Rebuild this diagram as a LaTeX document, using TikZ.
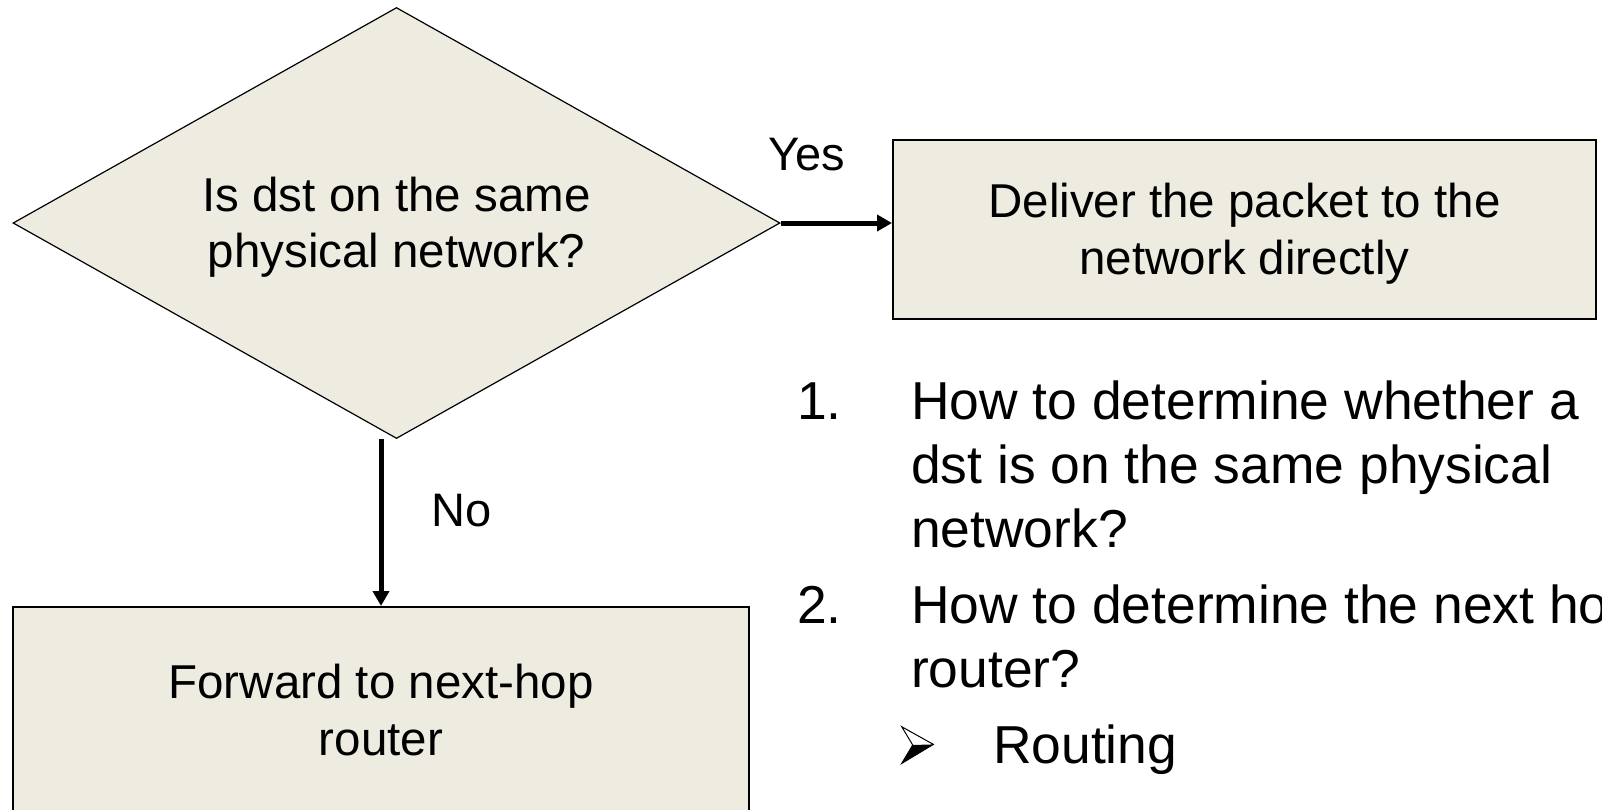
\documentclass[tikz,border=0pt]{standalone}
\usepackage{fontspec}
\setmainfont{Liberation Sans}
\usetikzlibrary{shapes.geometric,arrows.meta}
\definecolor{boxfill}{HTML}{EEECE1}
% line box of one text line: ascent and descent as a slide program sets them
\newcommand\lnstrut{\rule[-10pt]{0pt}{53pt}}
\tikzset{
  decision/.style={diamond, aspect=1.78, draw=black, line width=1.2pt, fill=boxfill, inner sep=0pt,
    minimum width=767pt, minimum height=431pt, align=center,
    font=\fontsize{47.5}{56.5}\selectfont},
  stepbox/.style={rectangle, draw=black, line width=2pt, fill=boxfill, inner sep=0pt,
    align=center, font=\fontsize{47.5}{56.5}\selectfont},
  flow/.style={line width=5pt, -{Triangle[width=16pt,length=15pt]}},
  lbl/.style={inner sep=0pt, font=\fontsize{47}{56}\selectfont},
  listtxt/.style={inner sep=0pt, anchor=base west, font=\fontsize{53.4}{64}\selectfont},
}
\begin{document}
\begin{tikzpicture}[x=1pt,y=-1pt]
  \useasboundingbox (0,0) rectangle (1602,809);

  % decision and the two outcomes
  \node[decision] (dst) at (396.5,223) {\lnstrut Is dst on the same\\physical network?\lnstrut};
  \node[stepbox, minimum width=703pt, minimum height=179pt] (deliver) at (1244.5,229.5)
    {\lnstrut Deliver the packet to the\\network directly\lnstrut};
  \node[stepbox, minimum width=736pt, minimum height=207pt] (forward) at (381,710.5)
    {\lnstrut Forward to next-hop\\router\lnstrut};

  % connectors
  \draw[flow] (dst.east) -- (dst.east -| deliver.west);
  \draw[flow] (dst.south -| forward.north) -- (forward.north);
  \node[lbl] (yes) at (807,155) {Yes};
  \node[lbl] (no) at (462,511) {No};

  % questions
  \node[listtxt] (n1) at (797,419) {1.};
  \node[listtxt] (q1) at (911,419)
    {\begin{tabular}[t]{@{}l@{}}How to determine whether a\\dst is on the same physical\\network?\end{tabular}};
  \node[listtxt] (n2) at (797,623) {2.};
  \node[listtxt] (q2) at (911,623)
    {\begin{tabular}[t]{@{}l@{}}How to determine the next hop\\router?\end{tabular}};

  % arrowhead bullet: open upper half, solid lower half
  \coordinate (bul) at (901.7,726.7);
  \fill[black] ([shift={(11,18.3)}]bul) -- ([shift={(31.7,17.7)}]bul)
    -- ([shift={(0,36.7)}]bul) -- cycle;
  \draw[line width=1pt, line join=miter] (bul) -- ([shift={(31.7,17.7)}]bul)
    -- ([shift={(0,36.7)}]bul) -- ([shift={(11,18.3)}]bul) -- cycle;
  \node[listtxt] (routing) at (993,763) {Routing};
\end{tikzpicture}
\end{document}
